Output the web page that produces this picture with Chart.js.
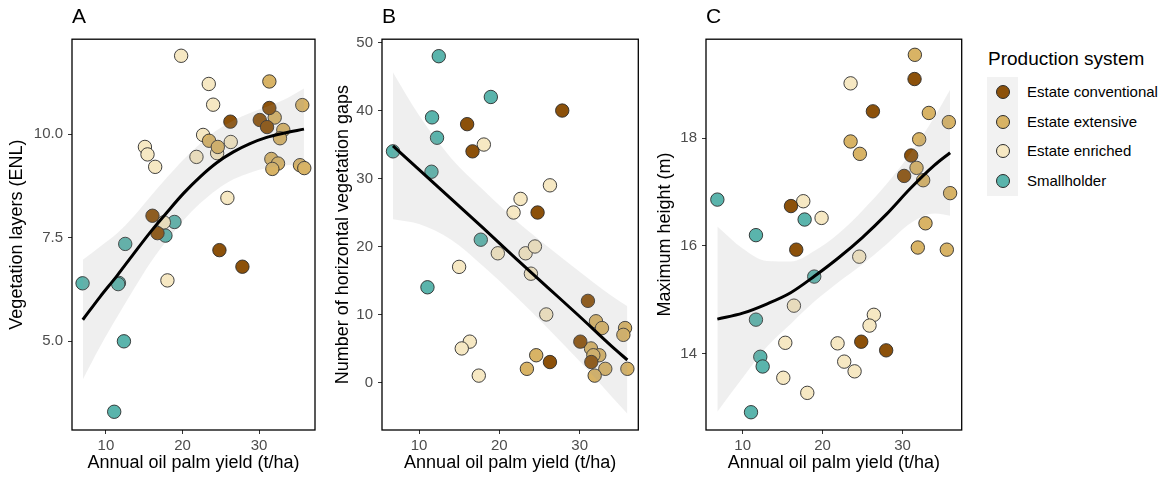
<!DOCTYPE html>
<html>
<head>
<meta charset="utf-8">
<script src="https://cdn.jsdelivr.net/npm/chart.js@4.4.0/dist/chart.umd.min.js"></script>
<style>
  body { margin: 0; background: #fff; width: 1163px; height: 480px; position: relative; overflow: hidden;
         font-family: "Liberation Sans", Arial, sans-serif; }
  canvas { position: absolute; top: 0; }
  #legTitle { position: absolute; left: 988px; top: 48px; font-size: 19px; line-height: 22px; color: #000; }
  #legKeys { position: absolute; left: 987px; top: 77px; width: 31px; height: 119px; background: #f2f2f2; }
  .key { position: absolute; left: 996px; width: 12px; height: 12px; border-radius: 50%; border: 1px solid #2b2b2b; }
  .lab { position: absolute; left: 1027px; font-size: 15px; line-height: 18px; color: #000; }
</style>
</head>
<body>
<canvas id="chartA" width="330" height="480" style="left:0px"></canvas>
<canvas id="chartB" width="330" height="480" style="left:325px"></canvas>
<canvas id="chartC" width="320" height="480" style="left:650px"></canvas>
<div id="legTitle">Production system</div>
<div id="legKeys"></div>
<div id="legend"></div>
<script>
// Production systems
const systems = ["Estate conventional", "Estate extensive", "Estate enriched", "Smallholder"];
const systemColors = ["#8c510a", "#d8b365", "#f6e8c3", "#5ab4ac"];

// Shared x axis
const xTicks = [10, 20, 30];

// Panel A: vegetation layers (ENL), [yield, value]
const aConventional = [[31.34,10.63],[26.25,10.30],[30.09,10.34],[31.04,10.17],[16.08,8.03],[16.73,7.61],[24.82,7.20],[27.82,6.80]];
const aExtensive = [[31.34,11.27],[35.64,10.70],[32.04,10.40],[33.16,10.10],[32.73,9.90],[23.47,9.84],[24.61,9.69],[31.6,9.40],[32.47,9.29],[31.73,9.16],[35.34,9.25],[35.9,9.18]];
const aEnriched = [[19.82,11.89],[23.43,11.21],[24.0,10.71],[22.69,9.98],[26.3,9.81],[24.52,9.54],[21.82,9.45],[15.09,9.69],[15.43,9.51],[16.43,9.21],[25.86,8.46],[17.56,7.87],[18.03,6.47]];
const aSmallholder = [[18.95,7.88],[17.77,7.55],[12.52,7.35],[6.95,6.40],[11.70,6.41],[11.6,6.38],[12.35,5.0],[11.08,3.30]];
const aFitX = [6.98, 9.26, 11.44, 13.61, 15.78, 17.96, 20.13, 22.3, 24.47, 26.65, 28.82, 30.99, 33.17, 35.86];
const aFit = [5.52, 6.08, 6.58, 7.11, 7.63, 8.11, 8.57, 8.97, 9.31, 9.57, 9.77, 9.92, 10.02, 10.12];
const aHi = [6.97, 7.29, 7.60, 8.01, 8.49, 8.95, 9.39, 9.77, 10.09, 10.33, 10.51, 10.66, 10.82, 11.10];
const aLo = [4.08, 4.88, 5.58, 6.25, 6.89, 7.43, 7.92, 8.33, 8.66, 8.91, 9.07, 9.18, 9.24, 9.27];
const aYTicks = [5, 7.5, 10];
const aYLabels = ["5.0", "7.5", "10.0"];

// Panel B: horizontal vegetation gaps
const bConventional = [[27.83,40],[15.99,38],[16.66,34],[24.76,25],[31.03,12],[30.08,6],[31.45,3],[26.3,3]];
const bExtensive = [[32.03,9],[32.78,8],[35.65,8],[35.44,7],[31.41,5],[32.44,4],[24.59,4],[23.43,2],[33.19,2],[35.94,2],[31.87,1],[31.7,4]];
const bEnriched = [[18.07,35],[26.3,29],[22.64,27],[21.77,25],[19.81,19],[23.27,19],[24.43,20],[23.93,16],[14.99,17],[25.84,10],[16.32,6],[15.32,5],[17.44,1]];
const bSmallholder = [[12.46,48],[18.94,42],[11.62,39],[12.24,36],[6.76,34],[11.55,31],[17.69,21],[11.05,14]];
const bFitX = [6.76, 10, 14, 18, 22, 26, 30, 34, 35.94];
const bFit = [34.8, 31.3, 27.0, 22.7, 18.3, 14.0, 9.7, 5.3, 3.3];
const bHi = [45.6, 39.3, 33.0, 28.3, 23.9, 20.0, 16.3, 12.7, 11.2];
const bLo = [24.0, 23.3, 21.0, 17.1, 12.7, 8.0, 3.1, -2.1, -4.6];
const bYTicks = [0, 10, 20, 30, 40, 50];
const bYLabels = ["0", "10", "20", "30", "40", "50"];

// Panel C: maximum height (m)
const cConventional = [[31.5,19.10],[26.29,18.50],[31.08,17.68],[30.2,17.30],[16.04,16.74],[16.7,15.93],[24.83,14.22],[27.95,14.06]];
const cExtensive = [[31.54,19.55],[33.29,18.47],[35.79,18.30],[23.5,17.94],[32.08,17.98],[24.66,17.71],[31.75,17.45],[32.58,17.22],[35.95,16.98],[32.87,16.42],[31.91,15.97],[35.54,15.93]];
const cEnriched = [[23.5,19.02],[17.58,16.83],[19.87,16.52],[24.58,15.80],[16.41,14.89],[26.41,14.72],[25.87,14.52],[15.33,14.20],[21.87,14.19],[22.7,13.85],[24.0,13.67],[15.08,13.55],[18.08,13.27]];
const cSmallholder = [[6.83,16.86],[11.66,16.20],[17.75,16.49],[18.95,15.43],[11.66,14.63],[12.2,13.94],[12.5,13.76],[11.04,12.91]];
const cFitX = [6.83, 10, 13, 16, 19, 22, 25, 28, 31, 34, 35.95];
const cFit = [14.64, 14.75, 14.92, 15.13, 15.44, 15.78, 16.16, 16.59, 17.07, 17.50, 17.73];
const cHi = [16.36, 15.95, 15.72, 15.71, 15.91, 16.23, 16.66, 17.15, 17.72, 18.40, 18.90];
const cLo = [12.92, 13.55, 14.12, 14.55, 14.97, 15.33, 15.66, 16.03, 16.42, 16.60, 16.56];
const cYTicks = [14, 16, 18];
const cYLabels = ["14", "16", "18"];

const FONT = '"Liberation Sans", Arial, sans-serif';

// legend (html)
const legend = document.getElementById("legend");
const keyY = [92, 121.5, 151, 180.5];
systems.forEach((name, i) => {
  const k = document.createElement("div");
  k.className = "key";
  k.style.top = (keyY[i] - 7) + "px";
  k.style.background = systemColors[i];
  legend.appendChild(k);
  const l = document.createElement("div");
  l.className = "lab";
  l.style.top = (keyY[i] - 9) + "px";
  l.textContent = name;
  legend.appendChild(l);
});

// panel frame
const frame = {
  id: "frame",
  afterDatasetsDraw(chart) {
    const { ctx, chartArea: a } = chart;
    ctx.save();
    ctx.strokeStyle = "#000";
    ctx.lineWidth = 1.3;
    ctx.strokeRect(a.left, a.top, a.right - a.left, a.bottom - a.top);
    ctx.restore();
  }
};

const toPts = list => list.map(p => ({ x: p[0], y: p[1] }));
const zip = (xs, ys) => xs.map((x, i) => ({ x: x, y: ys[i] }));

function makePanel(id, p) {
  const pointSets = p.groups.map((g, i) => ({
    type: "scatter",
    data: toPts(g),
    backgroundColor: systemColors[i],
    borderColor: "#2b2b2b",
    borderWidth: 0.9,
    pointRadius: 6.7,
    order: 3
  }));
  const band = { borderWidth: 0, pointRadius: 0, cubicInterpolationMode: "monotone", order: 2 };
  new Chart(document.getElementById(id), {
    type: "scatter",
    data: {
      datasets: pointSets.concat([
        Object.assign({ type: "line", data: zip(p.fitX, p.hi), fill: "+1", backgroundColor: "rgba(153,153,153,0.16)" }, band),
        Object.assign({ type: "line", data: zip(p.fitX, p.lo), fill: false }, band),
        { type: "line", data: zip(p.fitX, p.fit), borderColor: "#000", borderWidth: 3, pointRadius: 0,
          cubicInterpolationMode: "monotone", fill: false, order: 1 }
      ])
    },
    options: {
      responsive: false,
      animation: false,
      events: [],
      layout: { padding: { left: 0, right: p.padR, top: 0, bottom: 0 } },
      plugins: {
        legend: { display: false },
        tooltip: { enabled: false },
        title: { display: true, text: p.letter, align: "start", fullSize: false, color: "#000",
                 font: { family: FONT, size: 21, weight: "normal" }, padding: { top: 5, bottom: 9 } }
      },
      scales: {
        x: {
          type: "linear", min: p.xMin, max: p.xMax,
          afterBuildTicks: s => { s.ticks = xTicks.map(v => ({ value: v })); },
          afterFit: s => { s.height = 50; },
          grid: { drawOnChartArea: false, tickLength: 4, color: "#333" },
          border: { display: false },
          ticks: { color: "#4d4d4d", font: { family: FONT, size: 15 }, padding: 3, maxRotation: 0,
                   callback: v => String(v) },
          title: { display: true, text: "Annual oil palm yield (t/ha)", color: "#000",
                   font: { family: FONT, size: 18 }, padding: { top: 0, bottom: 6 } }
        },
        y: {
          type: "linear", min: p.yMin, max: p.yMax,
          afterBuildTicks: s => { s.ticks = p.yTicks.map(v => ({ value: v })); },
          afterFit: s => { s.width = p.yW; },
          grid: { drawOnChartArea: false, tickLength: 4, color: "#333" },
          border: { display: false },
          ticks: { color: "#4d4d4d", font: { family: FONT, size: 15 }, padding: 5,
                   callback: (v, i) => p.yLabels[i] },
          title: { display: true, text: p.yTitle, color: "#000",
                   font: { family: FONT, size: 18 }, padding: { top: p.yTitlePad, bottom: 0 } }
        }
      }
    },
    plugins: [frame]
  });
}

makePanel("chartA", {
  letter: "A", yTitle: "Vegetation layers (ENL)",
  groups: [aConventional, aExtensive, aEnriched, aSmallholder],
  fitX: aFitX, fit: aFit, hi: aHi, lo: aLo,
  xMin: 5.57, xMax: 37.3, yMin: 2.86, yMax: 12.29,
  yTicks: aYTicks, yLabels: aYLabels, yW: 72, padR: 15, yTitlePad: 6.7
});
makePanel("chartB", {
  letter: "B", yTitle: "Number of horizontal vegetation gaps",
  groups: [bConventional, bExtensive, bEnriched, bSmallholder],
  fitX: bFitX, fit: bFit, hi: bHi, lo: bLo,
  xMin: 5.39, xMax: 37.3, yMin: -7.0, yMax: 50.5,
  yTicks: bYTicks, yLabels: bYLabels, yW: 57, padR: 16.7, yTitlePad: 7
});
makePanel("chartC", {
  letter: "C", yTitle: "Maximum height (m)",
  groups: [cConventional, cExtensive, cEnriched, cSmallholder],
  fitX: cFitX, fit: cFit, hi: cHi, lo: cLo,
  xMin: 5.41, xMax: 37.4, yMin: 12.58, yMax: 19.84,
  yTicks: cYTicks, yLabels: cYLabels, yW: 56, padR: 8.3, yTitlePad: 4
});
</script>
</body>
</html>
